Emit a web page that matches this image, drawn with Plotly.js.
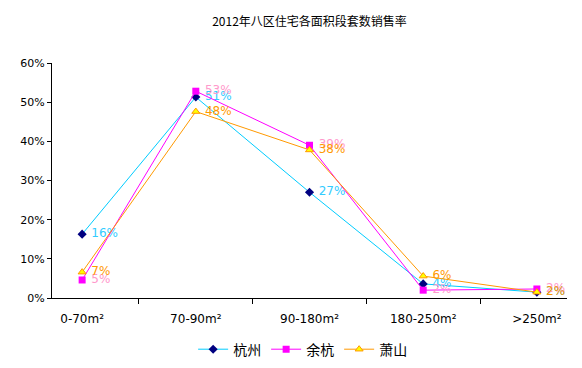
<!DOCTYPE html>
<html><head><meta charset="utf-8">
<script src="https://cdn.plot.ly/plotly-3.0.1.min.js"></script>
<style>html,body{margin:0;padding:0;background:#fff}</style>
</head><body>
<div id="chart" style="width:582px;height:368px"></div>
<script>
const categories = ["0-70m²", "70-90m²", "90-180m²", "180-250m²", ">250m²"];
const hangzhou = [0.163, 0.513, 0.270, 0.036, 0.015];
const yuhang = [0.046, 0.528, 0.390, 0.020, 0.023];
const xiaoshan = [0.066, 0.476, 0.378, 0.056, 0.015];
const seriesNames = ["杭州", "余杭", "萧山"];

const labelFont = "DejaVu Sans, sans-serif";
function mk(name, y, line, marker, textColor) {
  return {
    type: "scatter", mode: "lines+markers+text", name: name,
    x: categories, y: y,
    line: {color: line, width: 1},
    marker: marker,
    texttemplate: " %{y:.0%}", textposition: "middle right",
    textfont: {family: labelFont, size: 12, color: textColor},
    cliponaxis: false
  };
}
const data = [
  mk(seriesNames[0], hangzhou, "#00CCFF", {symbol: "diamond", size: 7, color: "#000080"}, "#33CCFF"),
  mk(seriesNames[1], yuhang, "#FF00FF", {symbol: "square", size: 7, color: "#FF00FF"}, "#FF99CC"),
  mk(seriesNames[2], xiaoshan, "#FF9900", {symbol: "triangle-up", size: 7, color: "#FFFF00", line: {color: "#FF9900", width: 1}}, "#FF9900")
];
const layout = {
  width: 582, height: 368,
  margin: {l: 52, r: 15, t: 63, b: 70, autoexpand: false},
  paper_bgcolor: "#fff", plot_bgcolor: "#fff",
  font: {family: "Noto Sans CJK SC, sans-serif", size: 11, color: "#000"},
  title: {text: "2012年八区住宅各面积段套数销售率", x: 0.5, xref: "paper", y: 0.94, yref: "container", yanchor: "middle", font: {size: 12, color: "#000"}},
  xaxis: {
    type: "category", showline: true, linecolor: "#000", linewidth: 1,
    ticks: "outside", tickson: "boundaries", ticklen: 5, tickcolor: "#000",
    ticklabelstandoff: 10,
    showgrid: false, zeroline: false, tickfont: {family: "DejaVu Sans, sans-serif", size: 12},
    automargin: false
  },
  yaxis: {
    range: [0, 0.6], dtick: 0.1, tickformat: ".0%",
    showline: true, linecolor: "#000", linewidth: 1,
    ticks: "outside", ticklen: 4, tickcolor: "#000",
    showgrid: false, zeroline: false, tickfont: {family: "DejaVu Sans, sans-serif", size: 11},
    automargin: false
  },
  showlegend: true,
  legend: {orientation: "h", x: 0.52, xref: "container", xanchor: "center", y: 0.05, yref: "container", yanchor: "middle",
    font: {size: 14, color: "#000"}, bgcolor: "rgba(0,0,0,0)"}
};
Plotly.newPlot("chart", data, layout, {displayModeBar: false, staticPlot: true});
</script>
</body></html>
